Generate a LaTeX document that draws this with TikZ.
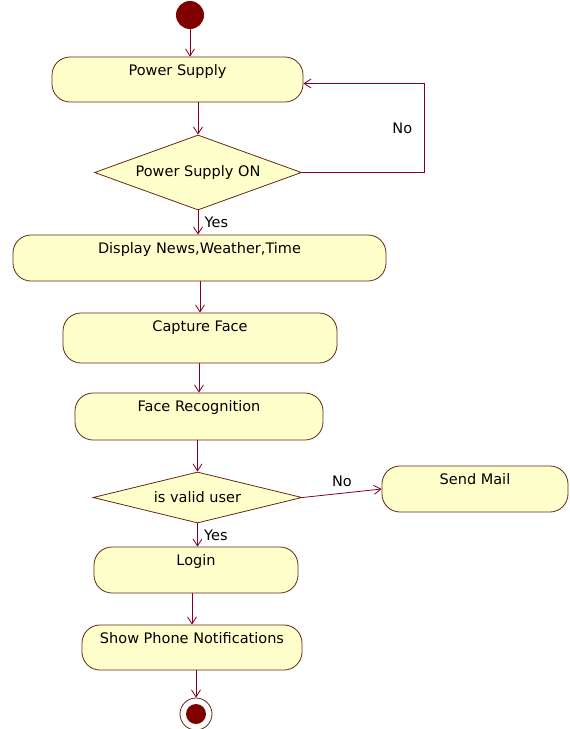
\documentclass[tikz,border=0pt]{standalone}
\usepackage{fontspec}
\setmainfont{DejaVu Sans}
\usepackage{xcolor}
\usetikzlibrary{arrows.meta,shapes.geometric}
\definecolor{actfill}{RGB}{255,255,204}
\definecolor{edge}{RGB}{100,40,20}
\definecolor{flow}{RGB}{128,0,32}
\definecolor{dot}{RGB}{128,0,0}

\begin{document}
\begin{tikzpicture}[
  x=1pt, y=-1pt,
  font=\fontsize{14.5}{17}\selectfont,
  act/.style={draw=edge, fill=actfill, line width=0.8pt, rounded corners=18pt, inner sep=4pt, text height=14pt, text depth=24pt},
  decision/.style={diamond, draw=edge, fill=actfill, line width=0.8pt, aspect=2.8, inner sep=0pt},
  line/.style={draw=flow, line width=0.8pt, -{Straight Barb[length=7pt,width=9pt]}}
]
\useasboundingbox (0,0) rectangle (570,729);
\node[circle, fill=dot, minimum size=28pt, inner sep=0pt] (start) at (190,15) {};
\node[act, minimum width=251pt, text depth=23pt] (supply) at (177.5,79.5) {Power Supply};
\node[decision, minimum width=207pt, minimum height=75pt] (on) at (198,172.5) {Power Supply ON};
\node[act, minimum width=373pt] (disp) at (199.5,258) {Display News,Weather,Time};
\node[act, minimum width=274pt, text depth=28pt] (capture) at (200,338) {Capture Face};
\node[act, minimum width=248pt, text depth=25pt] (recog) at (199,416.5) {Face Recognition};
\node[decision, minimum width=209pt, minimum height=51pt] (valid) at (197.5,497.5) {is valid user};
\node[act, minimum width=186pt] (mail) at (475,489) {Send Mail};
\node[act, minimum width=204pt] (login) at (196,570) {Login};
\node[act, minimum width=220pt, text depth=23pt] (notif) at (192,647.5) {Show Phone Notifications};
\node[circle, draw=edge, fill=white, line width=0.8pt, minimum size=32pt, inner sep=0pt] (stop) at (196,714) {};
\node[circle, fill=dot, minimum size=20pt, inner sep=0pt] at (stop) {};

\draw[line] (start) -- (start |- supply.north);
\draw[line] (on.north |- supply.south) -- (on.north);
\draw[line] (on.east) -- ++(122,0) |- node[pos=0.25, left=8pt] {No} ([yshift=-4pt]supply.east);
\draw[line] (on.south) -- node[right=3pt] {Yes} (on.south |- disp.north);
\draw[line] (capture.north |- disp.south) -- (capture.north);
\draw[line] (recog.north |- capture.south) -- (recog.north);
\draw[line] (valid.north |- recog.south) -- (valid.north);
\draw[line] (valid.east) -- node[above=3pt] {No} (mail.west);
\draw[line] (valid.south) -- node[right=3pt] {Yes} (valid.south |- login.north);
\draw[line] (notif.north |- login.south) -- (notif.north);
\draw[line] (stop |- notif.south) -- (stop.north);
\end{tikzpicture}
\end{document}
